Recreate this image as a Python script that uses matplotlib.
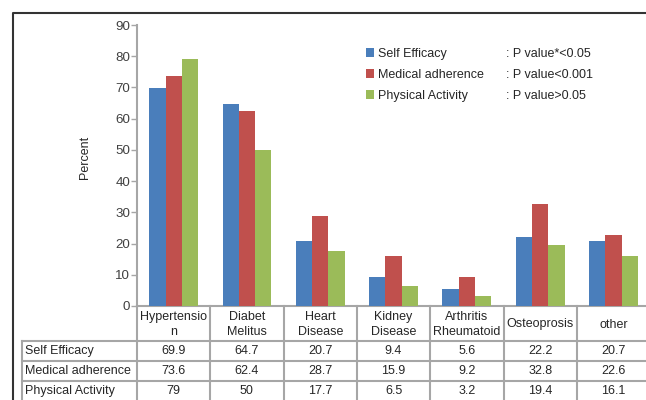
import matplotlib
matplotlib.use("Agg")
import matplotlib.pyplot as plt
from matplotlib.patches import Patch
from matplotlib.lines import Line2D
import numpy as np

# Chart data
categories = ["Hypertensio\nn", "Diabet\nMelitus", "Heart\nDisease", "Kidney\nDisease",
              "Arthritis\nRheumatoid", "Osteoprosis", "other"]
series_names = ["Self Efficacy", "Medical adherence", "Physical Activity"]
p_values = [": P value*<0.05", ": P value<0.001", ": P value>0.05"]
self_efficacy = [69.9, 64.7, 20.7, 9.4, 5.6, 22.2, 20.7]
medical_adherence = [73.6, 62.4, 28.7, 15.9, 9.2, 32.8, 22.6]
physical_activity = [79, 50, 17.7, 6.5, 3.2, 19.4, 16.1]
colors = ["#4a7ebb", "#c0504d", "#9bbb59"]

plt.rcParams['font.family'] = ['Liberation Sans', 'DejaVu Sans']
plt.rcParams['font.size'] = 9

W, H = 646, 400
fig = plt.figure(figsize=(W / 100, H / 100), dpi=100)


def fx(px):
    return px / W


def fy(py):
    return 1 - py / H


# Plot area, pixel layout converted to figure fractions
x0, x_axis_y, top_y = 137, 306, 25
cat_w = 73.3
ax_w = cat_w * len(categories)
ax = fig.add_axes([fx(x0), fy(x_axis_y), ax_w / W, (x_axis_y - top_y) / H])

series = [self_efficacy, medical_adherence, physical_activity]
x = np.arange(len(categories))
bw = 0.222
for i, (vals, name) in enumerate(zip(series, series_names)):
    ax.bar(x + (i - 1) * bw, vals, width=bw, color=colors[i], label=name, zorder=3)

ax.set_xlim(-0.5, len(categories) - 0.5)
ax.set_ylim(0, 90)
ax.set_yticks(range(0, 91, 10))
ax.set_xticks([])
for s in ["top", "right"]:
    ax.spines[s].set_visible(False)
for s in ["left", "bottom"]:
    ax.spines[s].set_color("#a6a6a6")
    ax.spines[s].set_linewidth(1.5)
ax.tick_params(axis="y", length=4, width=1, color="#a6a6a6", labelcolor="#404040",
               labelsize=9.6, pad=1)
ax.set_ylabel("Percent", color="#262626", fontsize=9)
ax.yaxis.set_label_coords((91 - x0) / ax_w, (x_axis_y - 157) / (x_axis_y - top_y))

# Legend: names in first column, p-values in second
blank = Patch(facecolor="none", edgecolor="none")
handles = [Patch(facecolor=c) for c in colors] + [blank] * 3
labels = series_names + p_values
fig.legend(handles, labels, ncol=2, loc="upper left", bbox_to_anchor=(fx(366), fy(48)),
           frameon=False, handlelength=0.65, handleheight=0.65, handletextpad=0.35,
           labelspacing=0.72, columnspacing=0.72, borderpad=0, borderaxespad=0,
           labelcolor="#262626", fontsize=9)

# Data table under the axis
grid_c = "#a6a6a6"
row_tops = [x_axis_y, 341, 361, 381, 401]
label_left = 22
right_edge = x0 + ax_w
for k in range(len(categories) + 1):
    xx = x0 + k * cat_w
    fig.add_artist(Line2D([fx(xx), fx(xx)], [fy(x_axis_y), fy(H + 2)], color=grid_c, lw=1.5))
fig.add_artist(Line2D([fx(label_left), fx(label_left)], [fy(341), fy(H + 2)], color=grid_c, lw=1.5))
for yy in row_tops[1:4]:
    fig.add_artist(Line2D([fx(label_left), fx(right_edge)], [fy(yy), fy(yy)], color=grid_c, lw=1.5))

for k, cat in enumerate(categories):
    cx = x0 + (k + 0.5) * cat_w
    fig.text(fx(cx), fy((row_tops[0] + row_tops[1]) / 2 + 1), cat, ha="center", va="center",
             fontsize=9, color="#262626", linespacing=1.3)

for r, (name, vals) in enumerate(zip(series_names, series)):
    cy = (row_tops[r + 1] + row_tops[r + 2]) / 2
    fig.text(fx(label_left + 3), fy(cy), name, ha="left", va="center", fontsize=9, color="#262626")
    for k, v in enumerate(vals):
        cx = x0 + (k + 0.5) * cat_w
        fig.text(fx(cx), fy(cy), f"{v:g}", ha="center", va="center", fontsize=9, color="#262626")

# Outer frame (left and top edges)
fig.add_artist(Line2D([fx(13), fx(13), fx(W + 2)], [fy(H + 2), fy(13), fy(13)],
                      color="#333333", lw=1.5))

fig.savefig("out.png", dpi=100)
